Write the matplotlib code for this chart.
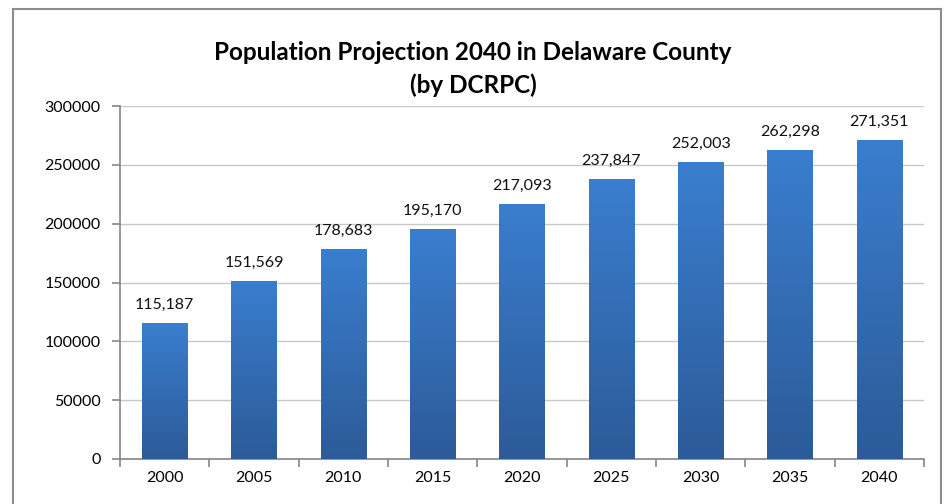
import numpy as np
import matplotlib
matplotlib.use('Agg')
import matplotlib.pyplot as plt
from matplotlib.colors import LinearSegmentedColormap
from matplotlib.lines import Line2D

# Population projection data (DCRPC)
years = ['2000', '2005', '2010', '2015', '2020', '2025', '2030', '2035', '2040']
population = [115187, 151569, 178683, 195170, 217093, 237847, 252003, 262298, 271351]
y_ticks = [0, 50000, 100000, 150000, 200000, 250000, 300000]

plt.rcParams['font.family'] = ['Lato', 'DejaVu Sans']

fig = plt.figure(figsize=(9.51, 5.04), dpi=100)
ax = fig.add_axes([120/951, 1 - 459/504, (924 - 120)/951, (459 - 106)/504])

# Outer chart border (left, top, right)
bc = '#8c8c8c'
fig.add_artist(Line2D([13/951, 13/951], [0, 1 - 9/504], color=bc, lw=1.5))
fig.add_artist(Line2D([13/951, 941/951], [1 - 9/504, 1 - 9/504], color=bc, lw=1.5))
fig.add_artist(Line2D([941/951, 941/951], [0, 1 - 9/504], color=bc, lw=1.5))

x = np.arange(len(years))
bars = ax.bar(x, population, width=0.51, color='#3670bb', zorder=2)

# Gradient fill on each bar
cmap = LinearSegmentedColormap.from_list('bar', ['#2c5b98', '#3a7ecf'])
grad = np.linspace(0, 1, 256).reshape(-1, 1)
for b in bars:
    x0, y0 = b.get_x(), b.get_y()
    w, h = b.get_width(), b.get_height()
    im = ax.imshow(grad, cmap=cmap, aspect='auto', origin='lower',
                   extent=[x0, x0 + w, y0, y0 + h], zorder=3)
    im.set_clip_path(b)

for xi, v in zip(x, population):
    ax.annotate(f'{v:,}', (xi, v), xytext=(0, 8), textcoords='offset points',
                ha='center', va='bottom', fontsize=11.5, color='#111111')

ax.set_xlim(-0.5, len(years) - 0.5)
ax.set_ylim(0, 300000)
ax.set_yticks(y_ticks)
ax.set_yticklabels([str(t) for t in y_ticks])
ax.yaxis.grid(True, color='#c8c8c8', lw=1, zorder=0)
ax.set_axisbelow(True)

# category boundary ticks, labels at centers
ax.set_xticks(np.arange(-0.5, len(years), 1.0))
ax.set_xticklabels([])
ax.set_xticks(x, minor=True)
ax.set_xticklabels(years, minor=True)
ax.tick_params(axis='x', which='minor', length=0, pad=9, labelsize=11.5)
ax.tick_params(axis='x', which='major', length=6, color='#868686', width=1.2)
ax.tick_params(axis='y', length=6, color='#868686', width=1.2, labelsize=11.5, pad=8)

for s in ['top', 'right']:
    ax.spines[s].set_visible(False)
for s in ['left', 'bottom']:
    ax.spines[s].set_color('#868686')
    ax.spines[s].set_linewidth(1.2)

fig.text(473/951, 1 - 52/504, 'Population Projection 2040 in Delaware County',
         ha='center', va='center', fontsize=17.5, fontweight='bold')
fig.text(473/951, 1 - 85/504, '(by DCRPC)',
         ha='center', va='center', fontsize=17.5, fontweight='bold')

fig.savefig('out.png', dpi=100)
